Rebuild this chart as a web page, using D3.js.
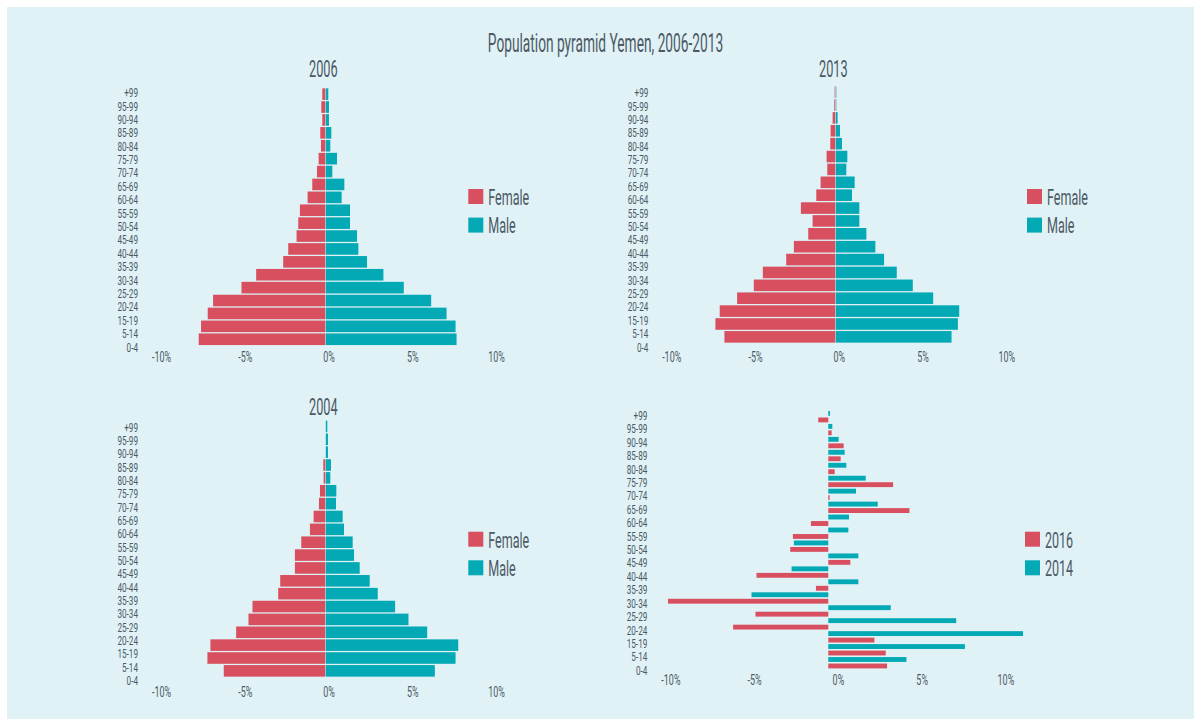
<!DOCTYPE html>
<html>
<head>
<meta charset="utf-8">
<script src="https://cdn.jsdelivr.net/npm/d3@7"></script>
<style>
  html, body { margin: 0; padding: 0; background: #ffffff; }
  svg { display: block; }
</style>
</head>
<body>
<svg id="chart" width="1194" height="719"></svg>
<script>
// Age groups, oldest at the top
const ageGroups = ["+99","95-99","90-94","85-89","80-84","75-79","70-74","65-69","60-64","55-59",
                   "50-54","45-49","40-44","35-39","30-34","25-29","20-24","15-19","5-14","0-4"];

// Share of total population (%) per age group
const female2006 = [0.18,0.24,0.18,0.30,0.26,0.40,0.50,0.78,1.06,1.52,1.62,1.72,2.22,2.52,4.14,5.02,6.72,7.04,7.44,7.58];
const male2006   = [0.18,0.22,0.22,0.36,0.30,0.70,0.42,1.14,0.98,1.48,1.48,1.90,1.98,2.50,3.48,4.70,6.34,7.26,7.80,7.86];

const female2013 = [0.04,0.06,0.16,0.28,0.30,0.52,0.48,0.88,1.14,2.06,1.36,1.62,2.48,2.94,4.34,4.88,5.88,6.92,7.18,6.64];
const male2013   = [0.06,0.06,0.14,0.28,0.40,0.72,0.66,1.16,1.00,1.44,1.44,1.86,2.40,2.92,3.68,4.64,5.86,7.42,7.34,6.96];

const female2004 = [0.00,0.00,0.00,0.12,0.10,0.32,0.38,0.70,0.92,1.44,1.82,1.82,2.70,2.82,4.36,4.60,5.34,6.88,7.06,6.08];
const male2004   = [0.12,0.16,0.16,0.34,0.30,0.66,0.64,1.04,1.12,1.64,1.72,2.06,2.66,3.14,4.18,4.98,6.10,7.96,7.80,6.56];

// Yearly comparison panel (%)
const values2014 = [0.10,0.24,0.62,0.98,1.08,2.24,1.66,2.96,1.24,1.20,-2.06,1.80,-2.20,1.80,-4.60,3.74,7.66,11.66,8.18,4.68];
const values2016 = [-0.60,0.20,0.92,0.74,0.38,3.88,0.08,4.86,-1.04,-2.12,-2.28,1.32,-4.30,-0.74,-9.60,-4.36,-5.70,2.76,3.44,3.52];

const tickValues = [-10, -5, 0, 5, 10];

const RED = "#d8505f", TEAL = "#04a9b6", INK = "#4c5965", BG = "#e0f2f6";
const FONT = "Roboto, 'DejaVu Sans', sans-serif";
const PX_PER_PCT = 16.7;

const svg = d3.select("#chart");
svg.append("rect").attr("x", 7).attr("y", 7).attr("width", 1187).attr("height", 712).attr("fill", BG);

// Condensed text: glyphs are squeezed horizontally around the anchor point
function label(g, x, y, txt, size, sx, anchor) {
  return g.append("text")
    .attr("transform", `translate(${x},${y}) scale(${sx},1)`)
    .attr("text-anchor", anchor || "start")
    .attr("font-size", size)
    .attr("font-family", FONT)
    .attr("fill", INK)
    .text(txt);
}

function percentAxis(zero, y) {
  const ax = d3.scaleLinear().domain([-10, 10]).range([zero - 167.5, zero + 167.5]);
  const g = svg.append("g").attr("transform", `translate(0,${y})`)
    .call(d3.axisBottom(ax).tickValues(tickValues).tickSize(0).tickPadding(0).tickFormat(d => d + "%"));
  g.select(".domain").remove();
  g.attr("font-family", FONT).attr("font-size", 14);
  g.selectAll("text").attr("y", 0).attr("dy", "0.35em").attr("fill", INK)
    .attr("transform", "scale(0.64,1)");
}

function ageAxis(xRight, y0, y1) {
  const ay = d3.scalePoint().domain(ageGroups).range([y0, y1]);
  const g = svg.append("g").attr("transform", `translate(${xRight},0)`)
    .call(d3.axisLeft(ay).tickSize(0).tickPadding(0));
  g.select(".domain").remove();
  g.attr("font-family", FONT).attr("font-size", 12);
  g.selectAll("text").attr("x", 0).attr("dy", "0.36em").attr("fill", INK)
    .attr("transform", "scale(0.68,1)");
}

function legend(x, y, items) {
  const g = svg.append("g");
  items.forEach((it, i) => {
    g.append("rect").attr("x", x).attr("y", y + i * 28.6).attr("width", 15).attr("height", 15).attr("fill", it.color);
    label(g, x + 20, y + i * 28.6 + 15.8, it.name, 22, 0.57, "start");
  });
}

// Population pyramids
const pyramids = [
  { title: "2006", female: female2006, male: male2006, zeroX: 325.3, axisZero: 328.5,
    barRange: [87.7, 345.7], tickY: 356.7, ageRange: [92.3, 346.7], ageX: 138, titleY: 76.7,
    legendX: 468.3, legendY: 189 },
  { title: "2013", female: female2013, male: male2013, zeroX: 835.3, axisZero: 838.7,
    barRange: [85.7, 343.3], tickY: 356.7, ageRange: [92.3, 346.7], ageX: 648.3, titleY: 77,
    legendX: 1027, legendY: 189 },
  { title: "2004", female: female2004, male: male2004, zeroX: 325.3, axisZero: 328.5,
    barRange: [420, 677.3], tickY: 691.7, ageRange: [426.7, 680.3], ageX: 138, titleY: 415,
    legendX: 468.3, legendY: 531.7 }
];

pyramids.forEach(p => {
  const x = d3.scaleLinear().domain([-10, 10]).range([p.zeroX - 10 * PX_PER_PCT, p.zeroX + 10 * PX_PER_PCT]);
  const y = d3.scaleBand().domain(ageGroups).range(p.barRange).paddingInner(0.1).paddingOuter(0.05);
  const rows = ageGroups.map((a, i) => ({ age: a, f: p.female[i], m: p.male[i] }));
  const g = svg.append("g");
  g.selectAll("rect.f").data(rows).join("rect").attr("class", "f")
    .attr("x", d => x(-d.f)).attr("width", d => x(0) - x(-d.f))
    .attr("y", d => y(d.age)).attr("height", y.bandwidth()).attr("fill", RED);
  g.selectAll("rect.m").data(rows).join("rect").attr("class", "m")
    .attr("x", x(0) + 0.5).attr("width", d => Math.max(0, x(d.m) - x(0) - 0.5))
    .attr("y", d => y(d.age)).attr("height", y.bandwidth()).attr("fill", TEAL);

  ageAxis(p.ageX, p.ageRange[0], p.ageRange[1]);
  percentAxis(p.axisZero, p.tickY);
  label(svg, p.zeroX - 2, p.titleY, p.title, 24.5, 0.52, "middle");
  legend(p.legendX, p.legendY, [{ name: "Female", color: RED }, { name: "Male", color: TEAL }]);
});

// 2014 vs 2016 grouped bars
{
  const zeroX = 828.3;
  const x = d3.scaleLinear().domain([-10, 10]).range([zeroX - 10 * PX_PER_PCT, zeroX + 10 * PX_PER_PCT]);
  const y = d3.scaleBand().domain(ageGroups).range([410.2, 669.2]);
  const years = ["2014", "2016"];
  const yi = d3.scaleBand().domain(years).range([0, y.bandwidth()]).paddingInner(0.25).paddingOuter(0.125);
  const color = d3.scaleOrdinal().domain(years).range([TEAL, RED]);
  const rows = [];
  ageGroups.forEach((a, i) => {
    rows.push({ age: a, year: "2014", v: values2014[i] });
    rows.push({ age: a, year: "2016", v: values2016[i] });
  });
  svg.append("g").selectAll("rect").data(rows).join("rect")
    .attr("x", d => x(Math.min(0, d.v))).attr("width", d => Math.abs(x(d.v) - x(0)))
    .attr("y", d => y(d.age) + yi(d.year)).attr("height", yi.bandwidth())
    .attr("fill", d => color(d.year));

  ageAxis(647.3, 415, 670);
  percentAxis(837.9, 680.5);
  legend(1025, 531.7, [{ name: "2016", color: RED }, { name: "2014", color: TEAL }]);
}

label(svg, 605.5, 52.3, "Population pyramid Yemen, 2006-2013", 25, 0.55, "middle");
</script>
</body>
</html>
